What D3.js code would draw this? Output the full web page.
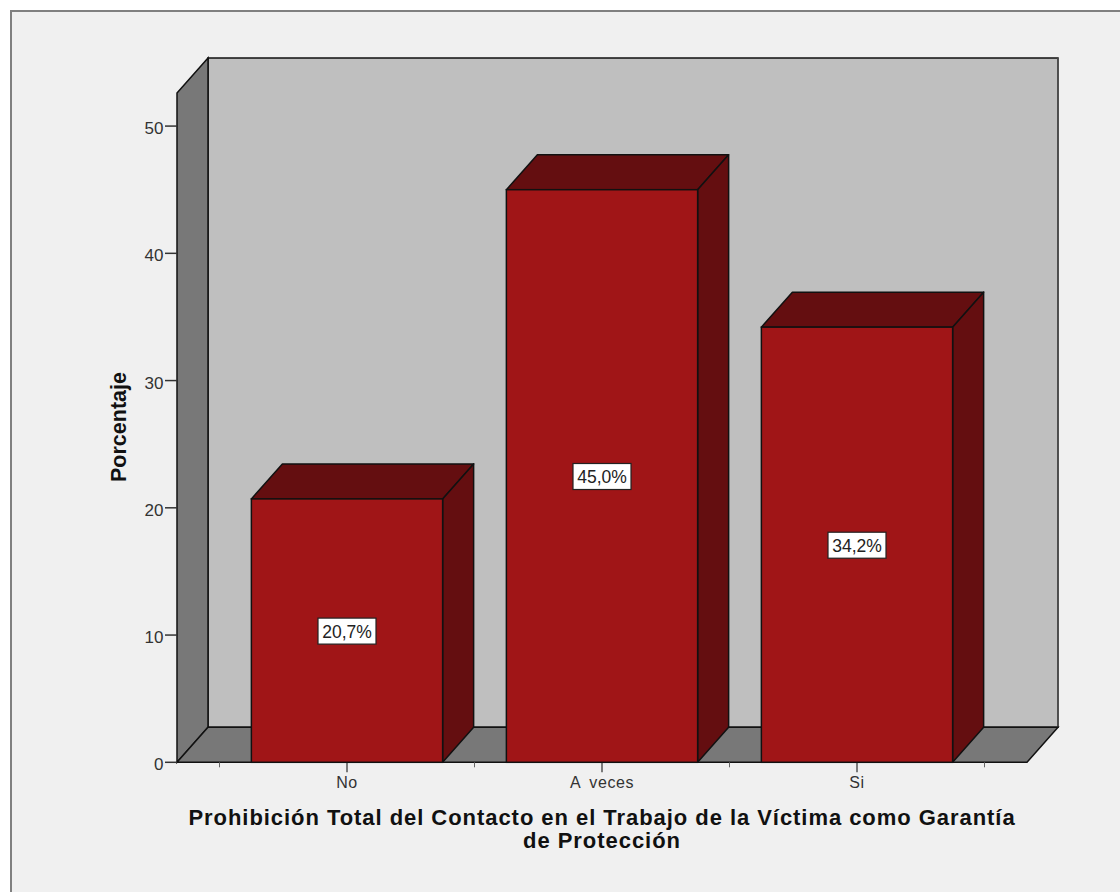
<!DOCTYPE html>
<html><head><meta charset="utf-8">
<script src="https://cdn.jsdelivr.net/npm/d3@7"></script>
<style>html,body{margin:0;padding:0;background:#fff}svg{display:block}text{font-family:"Liberation Sans",Arial,sans-serif;fill:#111}</style>
</head><body><svg id="c" width="1120" height="892"></svg>
<script>
const categories = ["No","A veces","Si"];
const percentages = [20.7,45.0,34.2];
const valueLabels = ["20,7%","45,0%","34,2%"];
const yTicks = [0,10,20,30,40,50];
const yTitle = "Porcentaje";
const xTitleLines = ["Prohibición Total del Contacto en el Trabajo de la Víctima como Garantía","de Protección"];

const svg = d3.select("#c");
const dx = 31, dy = -35;
const y = d3.scaleLinear().domain([0,52.6]).range([762.3,93]);
const x = d3.scaleBand().domain(categories).range([219.5,984.5]).paddingInner(0.25).paddingOuter(0.125);
const L = 177, R = 1027, y0 = y(0), yT = y(52.6), step = x.step();
const pts = a => a.map(p=>p.join(",")).join(" ");
const edge = "#111";

svg.append("rect").attr("x",11).attr("y",11).attr("width",1120).attr("height",900)
  .attr("fill","#f0f0f0").attr("stroke","#808080").attr("stroke-width",2);

// walls
svg.append("polygon").attr("points",pts([[L+dx,yT+dy],[R+dx,yT+dy],[R+dx,y0+dy],[L+dx,y0+dy]]))
  .attr("fill","#bfbfbf").attr("stroke",edge).attr("stroke-width",1.5);
svg.append("line").attr("x1",R+dx).attr("x2",R+dx).attr("y1",yT+dy).attr("y2",y0+dy).attr("stroke","#555").attr("stroke-width",1.5);
svg.append("polygon").attr("points",pts([[L,yT],[L+dx,yT+dy],[L+dx,y0+dy],[L,y0]]))
  .attr("fill","#787878").attr("stroke",edge).attr("stroke-width",1.5);
svg.append("polygon").attr("points",pts([[L,y0],[R,y0],[R+dx,y0+dy],[L+dx,y0+dy]]))
  .attr("fill","#787878").attr("stroke",edge).attr("stroke-width",1.5);

// y axis
const gy = svg.append("g");
gy.selectAll("line").data(yTicks).join("line")
  .attr("x1",L-12).attr("x2",L).attr("y1",d=>y(d)).attr("y2",d=>y(d)).attr("stroke","#333").attr("stroke-width",1.5);
gy.selectAll("text").data(yTicks).join("text")
  .attr("x",L-13.5).attr("y",d=>y(d)+8).attr("text-anchor","end").attr("font-size",17).attr("style","fill:#333").text(d=>d);

// x ticks
const boundaries = d3.range(categories.length+1).map(i=>x.range()[0]+i*step);
svg.append("g").selectAll("line").data(boundaries).join("line")
  .attr("x1",d=>d).attr("x2",d=>d).attr("y1",y0).attr("y2",y0+5).attr("stroke","#666").attr("stroke-width",1);
svg.append("g").selectAll("line").data(categories).join("line")
  .attr("x1",d=>x(d)+x.bandwidth()/2).attr("x2",d=>x(d)+x.bandwidth()/2).attr("y1",y0).attr("y2",y0+10).attr("stroke","#555").attr("stroke-width",1.5);
svg.append("g").selectAll("text").data(categories).join("text")
  .attr("x",d=>x(d)+x.bandwidth()/2).attr("y",788).attr("text-anchor","middle").attr("font-size",16)
  .attr("letter-spacing",0.6).attr("word-spacing",4).attr("style","fill:#333").text(d=>d);

// bars
const bars = svg.append("g").selectAll("g").data(categories.map((c,i)=>({c,v:percentages[i],l:valueLabels[i]}))).join("g");
bars.append("polygon").attr("points",d=>{const a=x(d.c),b=a+x.bandwidth(),t=y(d.v);return pts([[a,t],[b,t],[b+dx,t+dy],[a+dx,t+dy]]);})
  .attr("fill","#640e10").attr("stroke",edge).attr("stroke-width",1.5).attr("stroke-linejoin","round");
bars.append("polygon").attr("points",d=>{const b=x(d.c)+x.bandwidth(),t=y(d.v);return pts([[b,t],[b+dx,t+dy],[b+dx,y0+dy],[b,y0]]);})
  .attr("fill","#640e10").attr("stroke",edge).attr("stroke-width",1.5).attr("stroke-linejoin","round");
bars.append("rect").attr("x",d=>x(d.c)).attr("y",d=>y(d.v)).attr("width",x.bandwidth()).attr("height",d=>y0-y(d.v))
  .attr("fill","#a01517").attr("stroke",edge).attr("stroke-width",1.5);
// value labels
bars.append("rect").attr("x",d=>x(d.c)+x.bandwidth()/2-29).attr("y",d=>y(d.v/2)-12.5).attr("width",58).attr("height",26)
  .attr("fill","#fff").attr("stroke","#222").attr("stroke-width",1.2);
bars.append("text").attr("x",d=>x(d.c)+x.bandwidth()/2).attr("y",d=>y(d.v/2)+7).attr("text-anchor","middle").attr("font-size",17.5).attr("style","fill:#222").text(d=>d.l);

// titles
svg.append("text").attr("transform","translate(125.5,427) rotate(-90)").attr("text-anchor","middle")
  .attr("font-size",21.5).attr("font-weight","bold").text(yTitle);
svg.append("g").selectAll("text").data(xTitleLines).join("text")
  .attr("x",602).attr("y",(d,i)=>825+i*22.5).attr("text-anchor","middle").attr("font-size",22).attr("font-weight","bold").attr("letter-spacing",0.95).text(d=>d);
</script></body></html>
